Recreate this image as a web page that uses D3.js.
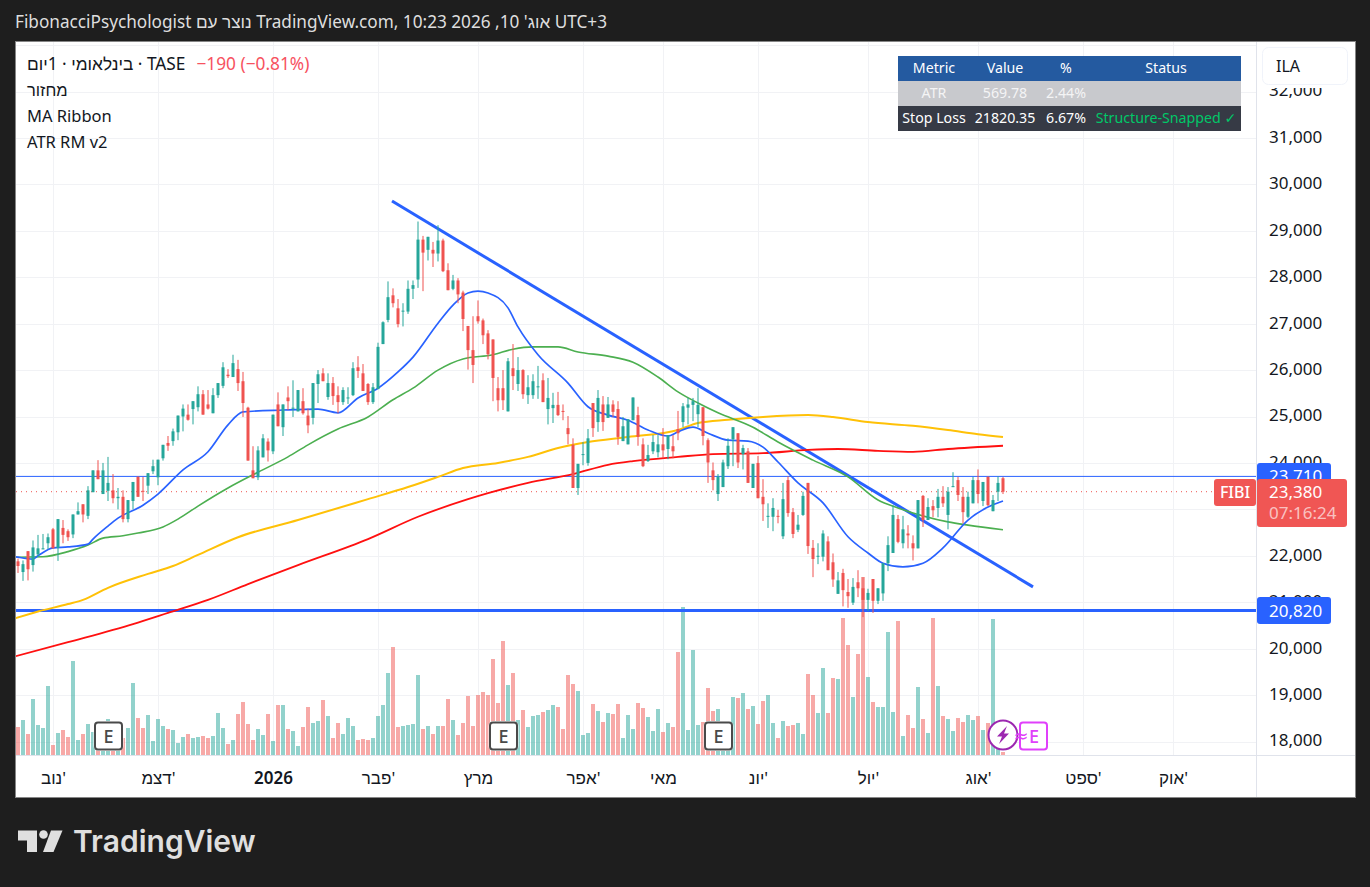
<!DOCTYPE html>
<html lang="he">
<head>
    <meta charset="UTF-8">
    <title>FIBI TASE daily chart</title>
    <script src="https://cdnjs.cloudflare.com/ajax/libs/d3/7.8.5/d3.min.js"></script>
    <style>
        body {
            margin: 0;
            background-color: #1e1e1e;
        }
        svg {
            display: block;
        }
        text {
            font-family: "Noto Sans", "Liberation Sans", "DejaVu Sans", sans-serif;
        }
    </style>
</head>
<body>
    <div id="chart"></div>

    <script>
        // Daily candles
        const opens = [
            21880,21650,22100,21800,22030,22140,22270,22570,22170,22600,
            22530,22460,22890,23110,22860,23370,23840,23330,23400,23410,
            23240,23270,22790,23180,23700,23400,23510,23820,23690,24100,
            24430,24470,24660,25000,25040,25160,25200,25480,25260,25070,
            25460,25660,25900,25850,26020,25760,25190,23840,23690,24120,
            24460,24250,25260,24770,25410,25170,25110,25330,25020,24970,
            25700,25930,25420,25720,25460,25310,25390,25460,26060,25930,
            25700,25310,25590,26560,27080,27610,27330,27260,27260,27750,
            27950,28810,28590,28590,28510,28790,28150,27750,27930,27670,
            26950,26430,27160,27070,26790,26660,25610,25610,25110,26040,
            25700,26000,25460,25460,25630,25780,25160,25180,25250,25120,
            24750,24390,23460,24170,24000,25290,24880,25260,24970,25260,
            25160,24470,24400,24920,25030,24400,24040,24250,24230,24400,
            24300,24360,24730,24880,25190,25250,25050,25200,24490,23840,
            23330,23480,23930,24510,24640,24190,24250,23460,24000,23270,
            22840,22840,22860,22420,23630,22940,22560,22880,23570,22170,
            21980,21980,22310,21860,21180,21630,21220,20990,21430,21300,
            21050,21500,21030,21190,21840,22060,22790,22270,22480,22270,
            22160,23290,22770,23070,23030,23270,22880,23480,23630,23270,
            22840,23130,23630,23180,23700,22960,23380,23670
        ];
        const closes = [
            21780,21820,21710,22180,22160,22160,22400,22160,22790,22450,
            22400,22890,22960,22890,23410,23840,23650,23840,23570,23240,
            23270,22790,23200,23590,23270,23380,23780,23930,24070,24390,
            24370,24680,25020,25170,24930,25330,25480,25040,25170,25460,
            25720,26060,25870,26150,25720,25290,24050,23670,24270,24530,
            24270,25040,24790,25260,25330,25190,25570,25070,24810,25720,
            25910,25760,25720,25440,25310,25570,25410,26040,25980,25550,
            25310,25630,26500,27030,27570,27440,26990,27280,27750,27830,
            28810,28530,28870,28510,28790,28130,27720,27930,27630,27100,
            26430,26110,27050,26750,26340,25830,25350,25350,26190,25870,
            26000,25480,25630,25760,25650,25310,25400,25250,25030,25100,
            24620,23460,23980,24190,24530,24750,25400,24880,25260,25100,
            24560,24790,24940,25410,24560,23930,24170,24450,24400,24270,
            24600,24250,24640,25220,25260,25330,25250,24580,24010,23630,
            23710,24010,24370,24770,24010,24320,23570,23980,23240,23110,
            22860,23030,22840,23220,22920,22470,22670,23290,22210,21930,
            22000,22480,21690,21490,21470,21260,21130,21330,21300,21050,
            21200,21030,21300,21840,22230,22880,22300,22570,22440,22160,
            23200,22770,23050,22980,23270,23130,23380,23500,23310,22940,
            23270,23630,23330,23590,23090,23200,23570,23380
        ];
        const highs = [
            21940,21900,22100,22330,22450,22470,22480,22600,22790,22770,
            22570,22890,23150,23110,23500,23840,24060,24000,24130,23760,
            23460,23410,23200,23590,23710,23700,23780,24070,24070,24390,
            24580,24740,25020,25260,25260,25330,25650,25570,25570,25610,
            25720,26170,26020,26330,26220,25960,25210,24360,24360,24620,
            24530,25040,25520,25260,25650,25780,25570,25610,25170,25720,
            26000,26040,25930,25850,25650,25630,25630,26170,26300,26130,
            25720,25720,26590,27050,27910,27760,27530,27440,27930,27930,
            29200,28890,28870,28760,29120,28830,28300,28050,27980,27710,
            26950,27160,27500,27110,26860,26660,25850,26000,26260,26560,
            26280,26020,25890,25910,26090,25930,25830,25510,25530,25260,
            25010,24530,23980,24450,24730,25290,25570,25440,25420,25350,
            25330,24990,24940,25410,25210,24530,24390,24600,24600,24750,
            24600,24600,25120,25290,25400,25400,25610,25200,24530,24010,
            23760,24070,24530,24770,24640,24390,24320,23980,24150,23650,
            23130,23240,22990,23570,23710,23030,22880,23380,23570,22340,
            22270,22550,22420,22050,21650,21720,21500,21520,21690,21540,
            21290,21500,21300,21840,22420,23090,22880,22860,22660,22440,
            23200,23310,23240,23200,23440,23500,23480,23800,23700,23480,
            23380,23700,23860,23590,23710,23310,23710,23700
        ];
        const lows = [
            21630,21460,21470,21660,21975,22140,22140,22160,21890,22270,
            22320,22380,22890,22720,22790,23370,23650,23330,23180,23130,
            23000,22720,22720,23000,23270,23180,23330,23760,23520,24050,
            24260,24370,24490,24680,24910,24830,25110,25040,25150,25070,
            25400,25610,25830,25850,25550,24990,24050,23670,23630,24120,
            24030,24190,24790,24580,25140,24990,25110,25040,24640,24830,
            25290,25760,25360,25250,25070,25250,25270,25440,25830,25550,
            25250,25270,25590,26560,27030,27350,26920,26940,27210,27530,
            27770,27700,28360,28220,28340,28110,27720,27720,27440,26840,
            26010,25720,27000,26560,26230,25330,25110,25140,25110,25570,
            25550,25380,25270,25380,25380,25310,24830,24860,25010,24920,
            24400,23460,23310,23950,23940,24560,24670,24690,24970,24990,
            24390,24470,24400,24920,24370,23910,24020,24190,24120,24100,
            24080,24100,24490,24770,24830,24900,24770,24380,23570,23410,
            23180,23480,23870,23930,23890,23860,23570,23460,23240,22750,
            22600,22530,22700,22360,22840,22380,22510,22860,22040,21540,
            21820,21880,21690,21330,21180,20910,20880,20940,21110,20680,
            20810,20770,20960,21030,21670,22060,22270,22160,22160,21900,
            22160,22620,22770,22830,22830,23050,22570,23480,23180,22700,
            22810,23130,23130,23070,23070,22960,23180,23330
        ];
        const volumes = [
            28,35,21,56,30,27,69,10,22,25,
            18,94,15,21,31,23,15,25,36,14,
            15,17,27,72,37,27,40,14,36,29,
            26,25,12,18,21,17,18,19,17,19,
            42,27,11,15,41,53,31,15,26,20,
            41,14,50,50,26,24,9,28,48,32,
            34,55,39,17,32,21,37,29,15,16,
            15,17,39,50,82,108,28,29,30,31,
            80,26,29,21,29,29,56,35,20,32,
            59,29,60,63,60,96,52,114,70,82,
            35,45,28,39,40,43,45,50,48,26,
            80,71,64,20,22,51,44,33,42,41,
            51,17,40,26,52,47,38,24,46,23,
            32,28,103,148,25,105,30,33,67,44,
            46,20,20,58,57,62,46,49,31,54,
            60,32,17,34,29,30,32,21,81,60,
            42,87,42,77,76,137,110,58,101,178,
            78,53,48,48,123,43,134,19,40,27,
            68,36,22,137,69,39,36,24,37,33,
            40,35,39,25,32,136,20,3
        ];

        // MA Ribbon, sampled as [bar index, price]
        const maBlue = [
            [-1,21990],[0,21970],[3,21930],[4,22000],[7,22170],[10,22190],[14,22250],[15,22360],[18,22640],
            [20,22810],[25,23090],[28,23330],[33,23850],[38,24240],[42,24820],[45,25100],[53,25140],
            [60,25160],[64,25080],[68,25400],[72,25610],[76,25960],[79,26280],[84,27010],[87,27400],
            [90,27660],[92,27700],[94,27660],[98,27340],[100,26930],[104,26330],[110,25720],[114,25210],[118,25030],
            [122,24920],[126,24710],[130,24580],[132,24670],[135,24770],[138,24640],[142,24490],[146,24470],
            [149,24340],[152,24020],[156,23570],[161,23140],[166,22410],[170,22060],[173,21840],[177,21760],
            [181,21840],[185,22170],[190,22770],[194,23050],[197,23180]
        ];
        const maGreen = [
            [-1,21980],[0,21970],[5,21980],[10,22090],[14,22230],[17,22380],[21,22430],[24,22490],[29,22620],
            [32,22790],[36,23070],[42,23460],[48,23800],[54,24130],[58,24390],[64,24730],[70,24990],
            [75,25360],[79,25610],[84,26000],[89,26240],[95,26330],[99,26450],[103,26500],[108,26500],
            [112,26390],[118,26300],[123,26170],[128,25850],[132,25530],[136,25290],[140,25080],[147,24770],
            [152,24450],[159,24060],[166,23700],[172,23200],[176,23030],[186,22730],[190,22660],[197,22560]
        ];
        const maYellow = [
            [-1,20640],[4,20800],[10,20960],[13,21050],[18,21310],[26,21610],[31,21780],[36,22020],[44,22400],
            [56,22770],[70,23220],[78,23480],[84,23700],[89,23890],[96,24000],[102,24130],[108,24320],
            [114,24450],[122,24560],[132,24710],[136,24860],[142,24930],[149,24990],[158,25030],[163,24990],
            [170,24880],[179,24800],[186,24710],[192,24620],[197,24560]
        ];
        const maRed = [
            [-1,19820],[10,20140],[23,20530],[30,20770],[38,21050],[46,21390],[56,21800],[70,22360],[80,22840],
            [90,23220],[94,23350],[102,23570],[111,23760],[118,23960],[123,24040],[132,24130],[139,24190],
            [149,24210],[158,24280],[164,24300],[172,24260],[179,24240],[186,24300],[197,24370]
        ];

        // Drawings
        const trendLine = [[74.8,29640],[203,21330]];
        const supportPrice = 20820;
        const resistancePrice = 23710;
        const lastPrice = 23380;

        // Axes
        const priceTicks = [18000,19000,20000,21000,22000,23000,24000,25000,26000,27000,28000,29000,30000,31000,32000];
        const priceGrid = priceTicks.concat([33000]);
        const timeTicks = [7,28,51,72,92,113,129,148,170,192,213,231];
        const timeLabels = ["נוב'","דצמ'","2026","פבר'","מרץ","אפר'","מאי","יונ'","יול'","אוג'","ספט'","אוק'"];
        const earningsBars = [18,97,140];

        // Table
        const tableColumns = ["Metric","Value","%","Status"];
        const tableAtr = ["ATR","569.78","2.44%",""];
        const tableStop = ["Stop Loss","21820.35","6.67%","Structure-Snapped ✓"];

        const width = 1370;
        const height = 887;
        const plot = {left: 16, right: 1256, top: 42, bottom: 755};

        const x = d3.scaleLinear().domain([0, 197]).range([18, 1003]);
        const y = d3.scaleLinear().domain([18000, 32000]).range([741.5, 91.5]);
        const yVol = d3.scaleLinear().domain([0, 178]).range([plot.bottom, 577]);

        const svg = d3.select("#chart")
            .append("svg")
            .attr("width", width)
            .attr("height", height);

        // Title line on the dark frame
        svg.append("text")
            .attr("x", 15)
            .attr("y", 28)
            .attr("font-size", 17.2)
            .attr("fill", "#dedede")
            .text("FibonacciPsychologist נוצר עם TradingView.com, אוג' 10, 2026 10:23 UTC+3");

        svg.append("rect")
            .attr("x", 15.5)
            .attr("y", 41.5)
            .attr("width", 1340)
            .attr("height", 756)
            .attr("fill", "#fff")
            .attr("stroke", "#868686");

        svg.append("clipPath")
            .attr("id", "plot-clip")
            .append("rect")
            .attr("x", plot.left)
            .attr("y", plot.top)
            .attr("width", plot.right - plot.left)
            .attr("height", plot.bottom - plot.top);

        const plotG = svg.append("g").attr("clip-path", "url(#plot-clip)");

        // Grid
        plotG.selectAll(".grid-h")
            .data(priceGrid)
            .enter().append("line")
            .attr("x1", plot.left)
            .attr("x2", plot.right)
            .attr("y1", d => Math.round(y(d)) + 0.5)
            .attr("y2", d => Math.round(y(d)) + 0.5)
            .attr("stroke", "#f1f2f5");

        plotG.selectAll(".grid-v")
            .data(timeTicks)
            .enter().append("line")
            .attr("x1", d => x(d) + 0.5)
            .attr("x2", d => x(d) + 0.5)
            .attr("y1", plot.top)
            .attr("y2", plot.bottom)
            .attr("stroke", "#f1f2f5");

        const isUp = i => closes[i] >= opens[i];

        // Volume
        plotG.selectAll(".vol")
            .data(volumes)
            .enter().append("rect")
            .attr("x", (d, i) => x(i) - 2)
            .attr("y", d => yVol(d))
            .attr("width", 4)
            .attr("height", d => plot.bottom - yVol(d))
            .attr("fill", (d, i) => isUp(i) ? "#26a69a" : "#ef5350")
            .attr("opacity", 0.5);

        // Level lines and trend line
        plotG.append("line")
            .attr("x1", plot.left).attr("x2", plot.right)
            .attr("y1", y(resistancePrice)).attr("y2", y(resistancePrice))
            .attr("stroke", "#2962ff");

        plotG.append("line")
            .attr("x1", plot.left).attr("x2", plot.right)
            .attr("y1", y(supportPrice)).attr("y2", y(supportPrice))
            .attr("stroke", "#2962ff")
            .attr("stroke-width", 3);

        plotG.append("line")
            .attr("x1", plot.left).attr("x2", plot.right)
            .attr("y1", y(lastPrice)).attr("y2", y(lastPrice))
            .attr("stroke", "#ef5350")
            .attr("stroke-dasharray", "1 4");

        plotG.append("line")
            .attr("x1", x(trendLine[0][0])).attr("y1", y(trendLine[0][1]))
            .attr("x2", x(trendLine[1][0])).attr("y2", y(trendLine[1][1]))
            .attr("stroke", "#2962ff")
            .attr("stroke-width", 3);

        // Moving averages
        const maLine = d3.line()
            .x(d => x(d[0]))
            .y(d => y(d[1]))
            .curve(d3.curveMonotoneX);

        const ribbons = [
            {data: maYellow, color: "#ffc107", w: 2},
            {data: maRed, color: "#ff1010", w: 1.8},
            {data: maGreen, color: "#4caf50", w: 1.6},
            {data: maBlue, color: "#2962ff", w: 1.7}
        ];

        plotG.selectAll(".ma")
            .data(ribbons)
            .enter().append("path")
            .attr("d", d => maLine(d.data))
            .attr("fill", "none")
            .attr("stroke", d => d.color)
            .attr("stroke-width", d => d.w);

        // Candles
        const candle = plotG.selectAll(".candle")
            .data(opens)
            .enter().append("g")
            .attr("fill", (d, i) => isUp(i) ? "#26a69a" : "#ef5350");

        candle.append("rect")
            .attr("x", (d, i) => x(i) - 0.5)
            .attr("y", (d, i) => y(highs[i]))
            .attr("width", 1)
            .attr("height", (d, i) => y(lows[i]) - y(highs[i]));

        candle.append("rect")
            .attr("x", (d, i) => x(i) - 1.5)
            .attr("y", (d, i) => y(Math.max(opens[i], closes[i])))
            .attr("width", 3)
            .attr("height", (d, i) => Math.max(1, Math.abs(y(opens[i]) - y(closes[i]))));

        // Earnings badges
        const badge = svg.selectAll(".badge")
            .data(earningsBars)
            .enter().append("g")
            .attr("transform", d => `translate(${x(d) + 0.5},736)`);

        badge.append("rect")
            .attr("x", -15).attr("y", -15)
            .attr("width", 30).attr("height", 30)
            .attr("rx", 5)
            .attr("fill", "#fff");

        badge.append("rect")
            .attr("x", -13.5).attr("y", -13.5)
            .attr("width", 27).attr("height", 27)
            .attr("rx", 3)
            .attr("fill", "#fff")
            .attr("stroke", "#4a4a4a")
            .attr("stroke-width", 2);

        badge.append("text")
            .attr("text-anchor", "middle")
            .attr("y", 6.5)
            .attr("font-size", 18)
            .attr("font-weight", 500)
            .attr("fill", "#4a4a4a")
            .text("E");

        // Future event icons right of the last bar
        const events = svg.append("g");

        events.append("circle")
            .attr("cx", 1003).attr("cy", 735).attr("r", 14.5)
            .attr("fill", "#fff")
            .attr("stroke", "#9c27b0")
            .attr("stroke-width", 2);

        events.append("path")
            .attr("d", "M1007,726 L997,736.5 L1002,736.5 L999,744 L1009,733.5 L1004,733.5 Z")
            .attr("fill", "#9c27b0");

        events.append("rect")
            .attr("x", 1020).attr("y", 722.5)
            .attr("width", 27).attr("height", 27)
            .attr("rx", 3)
            .attr("fill", "#fff")
            .attr("stroke", "#e040fb")
            .attr("stroke-width", 2);

        events.append("text")
            .attr("x", 1034).attr("y", 742.5)
            .attr("text-anchor", "middle")
            .attr("font-size", 18)
            .attr("font-weight", 500)
            .attr("fill", "#e040fb")
            .text("E");

        events.append("text")
            .attr("x", 1021).attr("y", 742)
            .attr("text-anchor", "middle")
            .attr("font-size", 18)
            .attr("fill", "#e040fb")
            .style("font-family", "'DejaVu Sans', sans-serif")
            .text("≈");

        // Axis borders
        svg.append("line")
            .attr("x1", plot.right + 0.5).attr("x2", plot.right + 0.5)
            .attr("y1", plot.top).attr("y2", 797)
            .attr("stroke", "#e0e3eb");

        svg.append("line")
            .attr("x1", plot.left).attr("x2", 1355)
            .attr("y1", plot.bottom + 0.5).attr("y2", plot.bottom + 0.5)
            .attr("stroke", "#e0e3eb");

        // Price axis
        const priceAxis = svg.append("g")
            .attr("transform", `translate(1269,-1)`)
            .call(d3.axisRight(y)
                .tickValues(priceTicks)
                .tickFormat(d3.format(","))
                .tickSize(0)
                .tickPadding(0));

        priceAxis.select(".domain").remove();
        priceAxis.selectAll("text")
            .attr("font-size", 17)
            .style("font-family", "'Noto Sans', sans-serif")
            .attr("fill", "#131722");

        // Time axis
        const timeAxis = svg.append("g")
            .attr("transform", `translate(0,${plot.bottom})`)
            .call(d3.axisBottom(x)
                .tickValues(timeTicks)
                .tickFormat((d, i) => timeLabels[i])
                .tickSize(0)
                .tickPadding(17));

        timeAxis.select(".domain").remove();
        timeAxis.selectAll("text")
            .attr("font-size", 17)
            .style("font-family", "'Noto Sans', 'Liberation Sans', sans-serif")
            .attr("fill", "#131722")
            .attr("font-weight", (d, i) => timeLabels[i] === "2026" ? 600 : 400);

        // Price tags
        function priceTag(value, color, label) {
            const cy = y(value);
            svg.append("rect")
                .attr("x", 1257).attr("y", cy - 13.5)
                .attr("width", 74).attr("height", 27)
                .attr("rx", 3)
                .attr("fill", color);
            svg.append("text")
                .attr("x", 1269).attr("y", cy + 6)
                .attr("font-size", 17)
                .attr("fill", "#fff")
                .text(label);
        }

        const fmt = d3.format(",");
        priceTag(resistancePrice, "#2962ff", fmt(resistancePrice));
        priceTag(supportPrice, "#2962ff", fmt(supportPrice));

        svg.append("rect")
            .attr("x", 1257).attr("y", 479)
            .attr("width", 90).attr("height", 48)
            .attr("rx", 3)
            .attr("fill", "#f05654");

        svg.append("text")
            .attr("x", 1269).attr("y", 498)
            .attr("font-size", 17)
            .attr("fill", "#fff")
            .text(fmt(lastPrice));

        svg.append("text")
            .attr("x", 1269).attr("y", 519)
            .attr("font-size", 17)
            .attr("fill", "#fff")
            .attr("fill-opacity", 0.65)
            .text("07:16:24");

        svg.append("rect")
            .attr("x", 1214).attr("y", 479)
            .attr("width", 42).attr("height", 27)
            .attr("rx", 3)
            .attr("fill", "#f05654");

        svg.append("text")
            .attr("x", 1235).attr("y", 498)
            .attr("text-anchor", "middle")
            .attr("font-size", 16)
            .attr("font-weight", 500)
            .attr("fill", "#fff")
            .text("FIBI");

        // Currency button, its white backing cuts the top off the 32,000 label
        svg.append("rect")
            .attr("x", 1258).attr("y", 42)
            .attr("width", 97).attr("height", 46)
            .attr("fill", "#fff");

        svg.append("rect")
            .attr("x", 1262.5).attr("y", 47.5)
            .attr("width", 85).attr("height", 37)
            .attr("rx", 6)
            .attr("fill", "#fff")
            .attr("stroke", "#f0f3fa");

        svg.append("text")
            .attr("x", 1276).attr("y", 72)
            .attr("font-size", 16)
            .attr("fill", "#131722")
            .text("ILA");

        // Legend
        const legend = svg.append("g").attr("font-size", 16.5).attr("fill", "#131722");

        const headline = legend.append("text").attr("x", 27).attr("y", 70).attr("font-size", 17.3);
        headline.append("tspan").text("בינלאומי · 1יום · TASE");
        headline.append("tspan")
            .attr("dx", 11)
            .attr("fill", "#f7525f")
            .text("−190 (−0.81%)");

        legend.append("text").attr("x", 27).attr("y", 96).text("מחזור");
        legend.append("text").attr("x", 27).attr("y", 122).text("MA Ribbon");
        legend.append("text").attr("x", 27).attr("y", 148).text("ATR RM v2");

        // Status table
        const colCenters = [934, 1005, 1066, 1166];
        const rowTop = [56, 81, 106];
        const rows = [
            {cells: tableColumns, fill: "#245aa0", color: "#fff"},
            {cells: tableAtr, fill: "#c8c9cd", color: "#f4f4f5"},
            {cells: tableStop, fill: "#363a45", color: "#fff"}
        ];

        const table = svg.append("g");

        rows.forEach((row, r) => {
            table.append("rect")
                .attr("x", 898).attr("y", rowTop[r])
                .attr("width", 343).attr("height", 25)
                .attr("fill", row.fill);

            table.selectAll(null)
                .data(row.cells)
                .enter().append("text")
                .attr("x", (d, i) => colCenters[i])
                .attr("y", rowTop[r] + 17)
                .attr("text-anchor", "middle")
                .attr("font-size", 14.2)
                .attr("fill", (d, i) => i === 3 && r === 2 ? "#00c868" : row.color)
                .text(d => d);
        });

        // Footer logo
        const logo = svg.append("g").attr("fill", "#dfdfdf");

        logo.append("path").attr("d", "M18,830.5 H37 V852 H27 V840.5 H18 Z");
        logo.append("circle").attr("cx", 43.5).attr("cy", 834.5).attr("r", 4.3);
        logo.append("path").attr("d", "M51,830.5 H62.5 L53.5,852 H43 Z");

        logo.append("text")
            .attr("x", 73)
            .attr("y", 852)
            .attr("font-size", 30)
            .attr("font-weight", 600)
            .style("font-family", "Inter, sans-serif")
            .text("TradingView");
    </script>
</body>
</html>
